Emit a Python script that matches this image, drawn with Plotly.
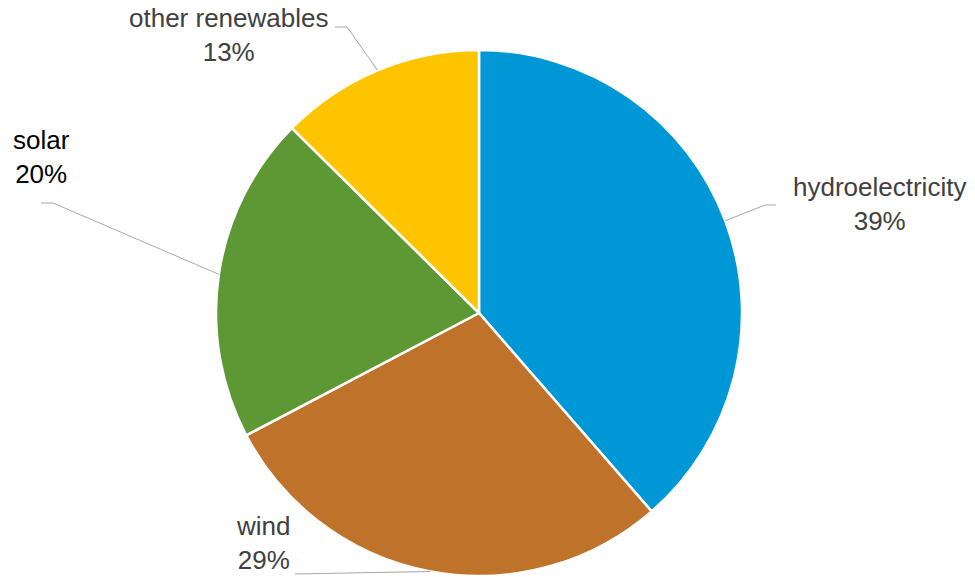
import math
import plotly.graph_objects as go

# ---- data ----
labels = ["hydroelectricity", "wind", "solar", "other renewables"]
values = [38.6, 28.7, 20.1, 12.6]
colors = ["#0097D7", "#BE722A", "#5E9834", "#FFC400"]
text_colors = ["#404040", "#404040", "#000000", "#404040"]

# ---- layout (pixels) ----
W, H = 975, 577
CX, CY, R = 479, 313, 263
# label block centres (px) and leader elbow points (px)
label_pos = [(879, 204), (263, 543), (41, 157), (228, 35)]
elbows = [[(765, 205), (776, 205)], [(295, 574)], [(53, 203), (41, 203)], [(347, 27), (335, 27)]]

def px(x):
    return x / W

def py(y):
    return 1 - y / H

fig = go.Figure()
fig.add_trace(go.Pie(
    labels=labels, values=values, sort=False, direction="clockwise", rotation=0,
    marker=dict(colors=colors, line=dict(color="white", width=2.5)),
    textinfo="none", hoverinfo="label+percent", showlegend=False,
    domain=dict(x=[px(CX - R), px(CX + R)], y=[py(CY + R), py(CY - R)]),
))

total = sum(values)
cum = 0.0
shapes = []
annotations = []
for i, (lab, v) in enumerate(zip(labels, values)):
    mid = (cum + v / 2) / total * 2 * math.pi
    cum += v
    ex = CX + R * math.sin(mid)
    ey = CY - R * math.cos(mid)
    pts = [(ex, ey)] + elbows[i]
    path = "M " + " L ".join(f"{px(x):.5f},{py(y):.5f}" for x, y in pts)
    shapes.append(dict(type="path", path=path, xref="paper", yref="paper",
                       line=dict(color="#A6A6A6", width=1)))
    pct = round(v / total * 100)
    lx, ly = label_pos[i]
    annotations.append(dict(
        text=f"{lab}<br>{pct}%", x=px(lx), y=py(ly), xref="paper", yref="paper",
        xanchor="center", yanchor="middle", showarrow=False, align="center",
        font=dict(family="Liberation Sans, Arial, sans-serif", size=26, color=text_colors[i]),
    ))

fig.update_layout(
    width=W, height=H, margin=dict(l=0, r=0, t=0, b=0),
    paper_bgcolor="white", plot_bgcolor="white",
    shapes=shapes, annotations=annotations,
)
fig.write_html("out.html")
